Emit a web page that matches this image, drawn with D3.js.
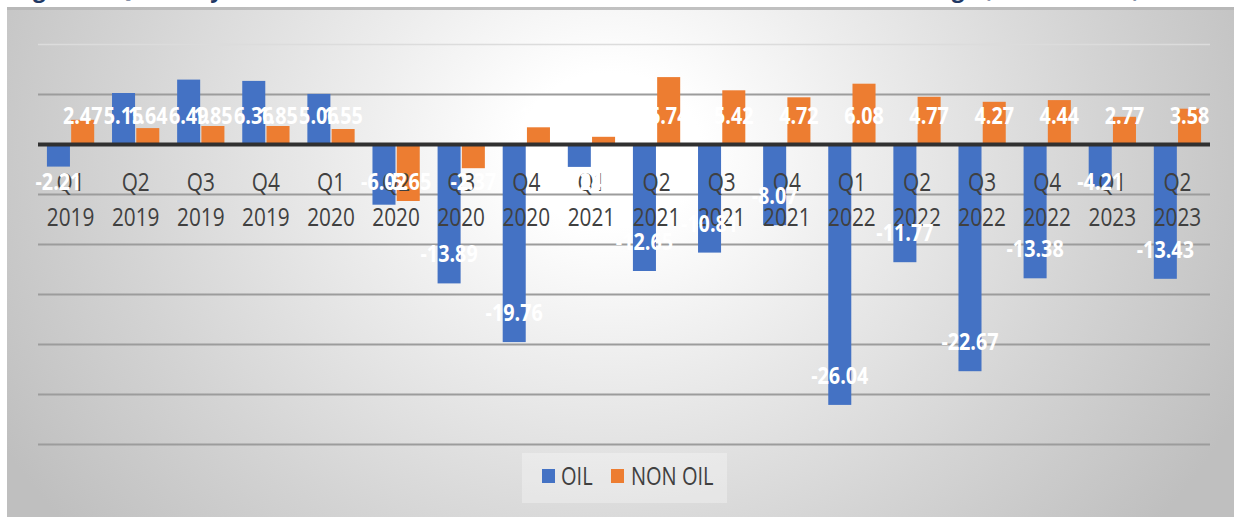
<!DOCTYPE html>
<html>
<head>
<meta charset="utf-8">
<script src="https://cdn.jsdelivr.net/npm/d3@7"></script>
<style>
  html, body { margin: 0; padding: 0; background: #ffffff; }
  svg { display: block; }
  text { font-family: "Open Sans", "Noto Sans", sans-serif; }
</style>
</head>
<body>
<svg id="chart" width="1234" height="517"></svg>
<script>
// Quarterly growth, oil vs non-oil activities (%)
const quarters = ["Q1", "Q2", "Q3", "Q4", "Q1", "Q2", "Q3", "Q4", "Q1", "Q2", "Q3", "Q4", "Q1", "Q2", "Q3", "Q4", "Q1", "Q2"];
const years    = ["2019", "2019", "2019", "2019", "2020", "2020", "2020", "2020", "2021", "2021", "2021", "2021", "2022", "2022", "2022", "2022", "2023", "2023"];
const oilValues    = [-2.21, 5.15, 6.49, 6.36, 5.06, -6.02, -13.89, -19.76, -2.24, -12.65, -10.81, -8.07, -26.04, -11.77, -22.67, -13.38, -4.21, -13.43];
const nonOilValues = [2.47, 1.64, 1.85, 1.85, 1.55, -5.65, -2.37, 1.72, 0.77, 6.74, 5.42, 4.72, 6.08, 4.77, 4.27, 4.44, 2.77, 3.58];
const seriesNames  = ["OIL", "NON OIL"];
const seriesColors = ["#4472c4", "#ed7d31"];
const gridValues   = [5, 0, -5, -10, -15, -20, -25, -30];
const titleText = "Figure 4: Quarterly Real GDP Growth of Oil and Non-Oil Activities, Year-on-Year Change (%, 2019-2023)";

const svg = d3.select("#chart");
const W = 1234, H = 517;
const plot = { left: 38, right: 1210, top: 44.5, bottom: 444.5 };

// Background panel: white glow in the upper middle fading to gray at the sides
const defs = svg.append("defs");
const grad = defs.append("radialGradient").attr("id", "bg")
  .attr("gradientUnits", "userSpaceOnUse")
  .attr("cx", 610).attr("cy", 150).attr("r", 700)
  .attr("fx", 610).attr("fy", 150)
  .attr("gradientTransform", "translate(610,150) scale(1,0.85) translate(-610,-150)");
[[0, "#ffffff"], [0.13, "#ffffff"], [0.35, "#eeeeee"], [0.7, "#d4d4d4"], [1, "#bfbfbf"]]
  .forEach(([o, c]) => grad.append("stop").attr("offset", o).attr("stop-color", c));

// Title line sitting above the panel (only its descenders reach into view)
svg.append("text")
  .attr("x", 14).attr("y", -3)
  .attr("textLength", 1126).attr("lengthAdjust", "spacingAndGlyphs")
  .style("font-size", "24px").style("font-weight", "700")
  .attr("fill", "#1f3864")
  .text(titleText);

svg.append("rect").attr("x", 7).attr("y", 7).attr("width", W - 7).attr("height", H - 7).attr("fill", "url(#bg)");
svg.append("rect").attr("x", 7).attr("y", 7).attr("width", W - 7).attr("height", 3).attr("fill", "#b4b4b4").attr("opacity", 0.8);

// Scales
const x0 = d3.scaleBand().domain(d3.range(quarters.length)).range([plot.left, plot.right]);
const x1 = d3.scaleBand().domain(seriesNames)
  .range([x0.bandwidth() * 0.137, x0.bandwidth() * 0.863]).paddingInner(0.05);
const y = d3.scaleLinear().domain([-30, 10]).range([plot.bottom, plot.top]);

// Horizontal gridlines
const g = svg.append("g");
g.append("line")
  .attr("x1", plot.left).attr("x2", plot.right)
  .attr("y1", y(10)).attr("y2", y(10))
  .attr("stroke", "#dcdcdc").attr("stroke-width", 1.5);
g.selectAll("line.grid").data(gridValues.filter(v => v !== 0)).join("line")
  .attr("class", "grid")
  .attr("x1", plot.left).attr("x2", plot.right)
  .attr("y1", d => y(d)).attr("y2", d => y(d))
  .attr("stroke", "#9c9c9c").attr("stroke-width", 2);

// Bars
const rows = quarters.map((q, i) => ({ i, values: [oilValues[i], nonOilValues[i]] }));
const groups = svg.append("g").selectAll("g").data(rows).join("g")
  .attr("transform", d => `translate(${x0(d.i)},0)`);
groups.selectAll("rect").data(d => d.values.map((v, k) => ({ v, k }))).join("rect")
  .attr("x", d => x1(seriesNames[d.k]))
  .attr("width", x1.bandwidth())
  .attr("y", d => Math.min(y(d.v), y(0)))
  .attr("height", d => Math.abs(y(d.v) - y(0)))
  .attr("fill", d => seriesColors[d.k]);

// Zero baseline
svg.append("line")
  .attr("x1", plot.left).attr("x2", plot.right)
  .attr("y1", y(0)).attr("y2", y(0))
  .attr("stroke", "#303030").attr("stroke-width", 4);

// Category labels (two lines: quarter / year)
const catG = svg.append("g").attr("fill", "#404040").style("font-size", "26px");
catG.selectAll("text.q").data(quarters).join("text")
  .attr("class", "q")
  .attr("text-anchor", "middle")
  .attr("transform", (d, i) => `translate(${x0(i) + x0.bandwidth() / 2},${191}) scale(0.8,1)`)
  .text(d => d);
catG.selectAll("text.yr").data(years).join("text")
  .attr("class", "yr")
  .attr("text-anchor", "middle")
  .attr("transform", (d, i) => `translate(${x0(i) + x0.bandwidth() / 2},${226}) scale(0.8,1)`)
  .text(d => d);

// Value labels in white
const labelG = svg.append("g").attr("fill", "#ffffff").style("font-size", "23px").style("font-weight", "700");
seriesNames.forEach((name, k) => {
  const vals = k === 0 ? oilValues : nonOilValues;
  labelG.selectAll(`text.s${k}`).data(vals).join("text")
    .attr("class", `s${k}`)
    .attr("text-anchor", "middle")
    .attr("transform", (v, i) => {
      const cx = x0(i) + x1(name) + x1.bandwidth() / 2;
      const cy = v >= 0 ? y(0) - 29 : Math.max(y(v) - 29, y(0) + 37);
      return `translate(${cx},${cy + 8}) scale(0.86,1)`;
    })
    .text(v => v.toFixed(2));
});

// Legend
const legend = svg.append("g");
legend.append("rect").attr("x", 522).attr("y", 453).attr("width", 205).attr("height", 50)
  .attr("fill", "#ffffff").attr("opacity", 0.3);
const legendItems = [{ name: seriesNames[0], x: 542, tx: 561 }, { name: seriesNames[1], x: 611, tx: 631 }];
legendItems.forEach((it, k) => {
  legend.append("rect").attr("x", it.x).attr("y", 469).attr("width", 13).attr("height", 14).attr("fill", seriesColors[k]);
  legend.append("text")
    .attr("transform", `translate(${it.tx},485) scale(0.77,1)`)
    .attr("fill", "#404040").style("font-size", "26px")
    .text(it.name);
});
</script>
</body>
</html>
